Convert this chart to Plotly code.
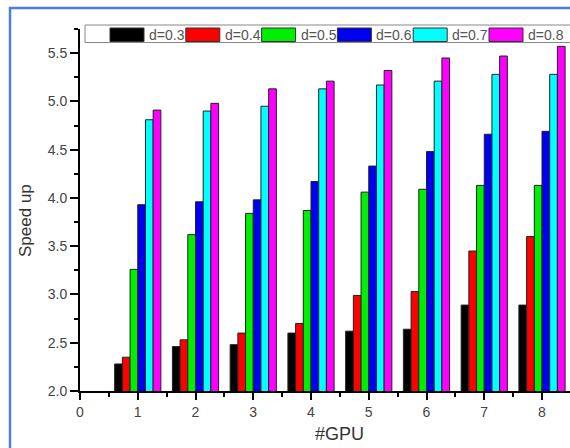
import plotly.graph_objects as go

# ---- data ----
gpus = [1, 2, 3, 4, 5, 6, 7, 8]
series_names = ["d=0.3", "d=0.4", "d=0.5", "d=0.6", "d=0.7", "d=0.8"]
d03 = [2.28, 2.46, 2.48, 2.60, 2.62, 2.64, 2.89, 2.89]
d04 = [2.35, 2.53, 2.60, 2.70, 2.99, 3.03, 3.45, 3.60]
d05 = [3.26, 3.62, 3.84, 3.87, 4.06, 4.09, 4.13, 4.13]
d06 = [3.93, 3.96, 3.98, 4.17, 4.33, 4.48, 4.66, 4.69]
d07 = [4.81, 4.90, 4.95, 5.13, 5.17, 5.21, 5.28, 5.28]
d08 = [4.91, 4.98, 5.13, 5.21, 5.32, 5.45, 5.47, 5.57]
series_values = [d03, d04, d05, d06, d07, d08]
colors = ["#000000", "#ff0000", "#00ee00", "#0000f0", "#00ffff", "#ff00ff"]
x_ticks = [0, 1, 2, 3, 4, 5, 6, 7, 8]
y_ticks = [2.0, 2.5, 3.0, 3.5, 4.0, 4.5, 5.0, 5.5]

W, H = 570, 448
ML, MR, MT, MB = 80, 0, 29, 57
PW = W - ML - MR
PH = H - MT - MB


def px(xp):
    return (xp - ML) / PW


def py(yp):
    return (H - MB - yp) / PH


FONT = "Liberation Sans, Arial, sans-serif"

fig = go.Figure()
for name, vals, col in zip(series_names, series_values, colors):
    fig.add_trace(go.Bar(
        x=gpus, y=vals, name=name,
        marker=dict(color=col, line=dict(color="#222222", width=1)),
        showlegend=False,
    ))

shapes = []
annotations = []

# outer blue frame (cropped on right/bottom)
shapes.append(dict(type="rect", xref="paper", yref="paper",
                   x0=px(10), x1=px(620), y0=py(500), y1=py(8),
                   line=dict(color="#4d7fd6", width=2.5), fillcolor="rgba(0,0,0,0)",
                   layer="above"))

# custom legend box
shapes.append(dict(type="rect", xref="paper", yref="paper",
                   x0=px(85), x1=px(600), y0=py(42.5), y1=py(25),
                   line=dict(color="#888888", width=1), fillcolor="white", layer="above"))
for i, (name, col) in enumerate(zip(series_names, colors)):
    sx = 110 + 75.8 * i
    shapes.append(dict(type="rect", xref="paper", yref="paper",
                       x0=px(sx), x1=px(sx + 34), y0=py(41.5), y1=py(28),
                       line=dict(color="#333333", width=1), fillcolor=col, layer="above"))
    annotations.append(dict(text=name, xref="paper", yref="paper",
                            x=px(sx + 37), y=py(34.5), xanchor="left", yanchor="middle",
                            showarrow=False, font=dict(family=FONT, size=14, color="#555555")))

# axis titles
annotations.append(dict(text="Speed up", xref="paper", yref="paper",
                        x=px(25), y=py(221), textangle=-90, showarrow=False,
                        xanchor="center", yanchor="middle",
                        font=dict(family=FONT, size=17, color="#333333")))
annotations.append(dict(text="#GPU", xref="paper", yref="paper",
                        x=px(339), y=py(434), showarrow=False,
                        xanchor="center", yanchor="middle",
                        font=dict(family=FONT, size=18, color="#333333")))

fig.update_layout(
    width=W, height=H,
    margin=dict(l=ML, r=MR, t=MT, b=MB, pad=0),
    paper_bgcolor="white", plot_bgcolor="white",
    barmode="group", bargap=0.2, bargroupgap=0,
    shapes=shapes, annotations=annotations,
    showlegend=False,
    xaxis=dict(range=[0, PW / 57.75], tickmode="array", tickvals=x_ticks,
               ticktext=[str(v) for v in x_ticks],
               showline=True, linecolor="black", linewidth=2,
               ticks="outside", ticklen=7, tickwidth=2, tickcolor="black",
               minor=dict(dtick=0.5, tick0=0, ticks="outside", ticklen=4, tickwidth=2, tickcolor="black"),
               showgrid=False, zeroline=False,
               tickfont=dict(family=FONT, size=14, color="#444444")),
    yaxis=dict(range=[2.0, 5.75], tickmode="array", tickvals=y_ticks,
               ticktext=[f"{v:.1f}" for v in y_ticks],
               showline=True, linecolor="black", linewidth=2,
               ticks="outside", ticklen=8, tickwidth=2, tickcolor="black",
               minor=dict(dtick=0.25, tick0=2.0, ticks="outside", ticklen=4, tickwidth=2, tickcolor="black"),
               showgrid=False, zeroline=False,
               tickfont=dict(family=FONT, size=14, color="#444444")),
)

fig.write_html("out.html")
